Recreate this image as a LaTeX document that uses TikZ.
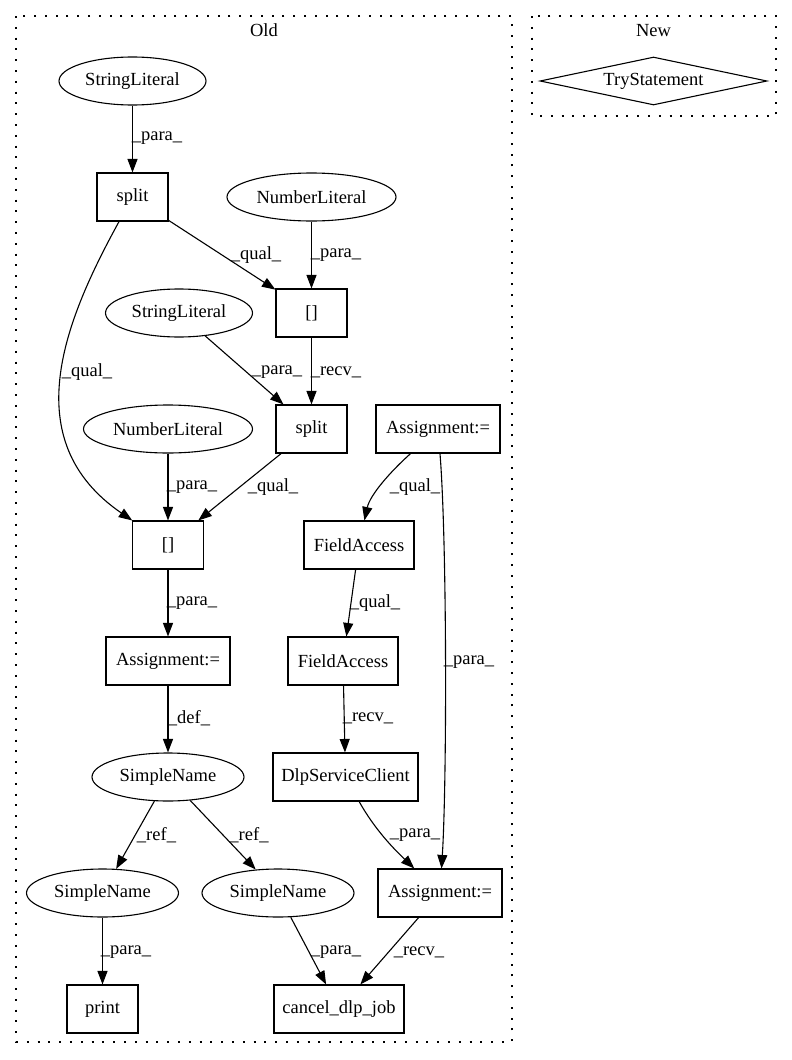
\documentclass[tikz,border=0pt]{standalone}
\usepackage{fontspec}
\setmainfont{Liberation Serif}
\usetikzlibrary{shapes.geometric,arrows.meta}
\begin{document}
\begin{tikzpicture}[x=1pt,y=-1pt,
  font=\fontsize{18.5}{22}\selectfont,
  box/.style={draw,rectangle,minimum height=48pt,inner sep=0pt,line width=1.1pt},
  ell/.style={draw,ellipse,minimum height=48pt,inner sep=0pt,line width=1.1pt},
  arr/.style={-{Triangle[length=13.5pt,width=10pt]},line width=1.1pt},
  lbl/.style={inner sep=0pt},
  cluster/.style={draw,line width=1.2pt,dash pattern=on 2pt off 8.8pt}]
\useasboundingbox (0,0) rectangle (792,1060);
% clusters
\draw[cluster] (16,16) rectangle (512,1042);
\node[lbl] (oldlbl) at (264,30) {Old};
\draw[cluster] (532,16) rectangle (776,116);
\node[lbl] (newlbl) at (653.5,31) {New};
% nodes
\node[ell,minimum width=147pt] (sl1) at (132.5,81) {StringLiteral};
\node[box,minimum width=71pt] (split1) at (132.5,197) {split};
\node[ell,minimum width=169pt] (nl1) at (311.5,197) {NumberLiteral};
\node[box,minimum width=71pt] (brk1) at (311.5,313) {[]};
\node[ell,minimum width=147pt] (sl2) at (179,313) {StringLiteral};
\node[box,minimum width=71pt] (split2) at (311.5,429) {split};
\node[ell,minimum width=169pt] (nl2) at (168,429) {NumberLiteral};
\node[box,minimum width=124pt] (asg0) at (438,429) {Assignment:=};
\node[box,minimum width=71pt] (brk2) at (168,545) {[]};
\node[box,minimum width=110pt] (fa1) at (359,545) {FieldAccess};
\node[box,minimum width=124pt] (asg1) at (168,661) {Assignment:=};
\node[box,minimum width=110pt] (fa2) at (343,661) {FieldAccess};
\node[ell,minimum width=152pt] (sn1) at (168,777) {SimpleName};
\node[box,minimum width=145pt] (dsc) at (345.5,777) {DlpServiceClient};
\node[ell,minimum width=152pt] (sn2) at (102.5,893) {SimpleName};
\node[ell,minimum width=152pt] (sn3) at (278,893) {SimpleName};
\node[box,minimum width=124pt] (asg2) at (440,893) {Assignment:=};
\node[box,minimum width=71pt] (print) at (102.5,1009) {print};
\node[box,minimum width=130pt] (cancel) at (339,1009) {cancel\_dlp\_job};
\node[draw,diamond,aspect=4.7,minimum width=227pt,minimum height=48pt,inner sep=0pt,line width=1.1pt] (try) at (653.5,81) {TryStatement};
% edges
\draw[arr] (sl1) -- (split1);
\draw[arr] (split1) -- (brk1);
\draw[arr] (nl1) -- (brk1);
\draw[arr] (brk1) -- (split2);
\draw[arr] (sl2) -- (split2);
\draw[arr] (split1) .. controls (65,320) and (15,440) .. (brk2);
\draw[arr] (nl2) -- (brk2);
\draw[arr] (split2) -- (brk2);
\draw[arr] (brk2) -- (asg1);
\draw[arr] (asg1) -- (sn1);
\draw[arr] (asg0) .. controls (390,472) and (370,495) .. (fa1);
\draw[arr] (asg0) .. controls (447,540) and (447,780) .. (asg2);
\draw[arr] (fa1) -- (fa2);
\draw[arr] (fa2) -- (dsc);
\draw[arr] (sn1) -- (sn2);
\draw[arr] (sn1) -- (sn3);
\draw[arr] (dsc) .. controls (375,830) and (395,850) .. (asg2);
\draw[arr] (sn2) -- (print);
\draw[arr] (sn3) -- (cancel);
\draw[arr] (asg2) -- (cancel);
% edge labels
\node[lbl] (l1) at (157,138) {\_para\_};
\node[lbl] (l2) at (256,255) {\_qual\_};
\node[lbl] (l3) at (336,255) {\_para\_};
\node[lbl] (l4) at (87,372) {\_qual\_};
\node[lbl] (l5) at (277,372) {\_para\_};
\node[lbl] (l6) at (336,372) {\_recv\_};
\node[lbl] (l7) at (192,487) {\_para\_};
\node[lbl] (l8) at (273,487) {\_qual\_};
\node[lbl] (l9) at (415,487) {\_qual\_};
\node[lbl] (l10) at (192,603) {\_para\_};
\node[lbl] (l11) at (375,603) {\_qual\_};
\node[lbl] (l12) at (469,662) {\_para\_};
\node[lbl] (l13) at (189,718) {\_def\_};
\node[lbl] (l14) at (368,718) {\_recv\_};
\node[lbl] (l15) at (156.5,835) {\_ref\_};
\node[lbl] (l16) at (249,835) {\_ref\_};
\node[lbl] (l17) at (415,835) {\_para\_};
\node[lbl] (l18) at (126,952) {\_para\_};
\node[lbl] (l19) at (336,952) {\_para\_};
\node[lbl] (l20) at (419,952) {\_recv\_};
\end{tikzpicture}
\end{document}
